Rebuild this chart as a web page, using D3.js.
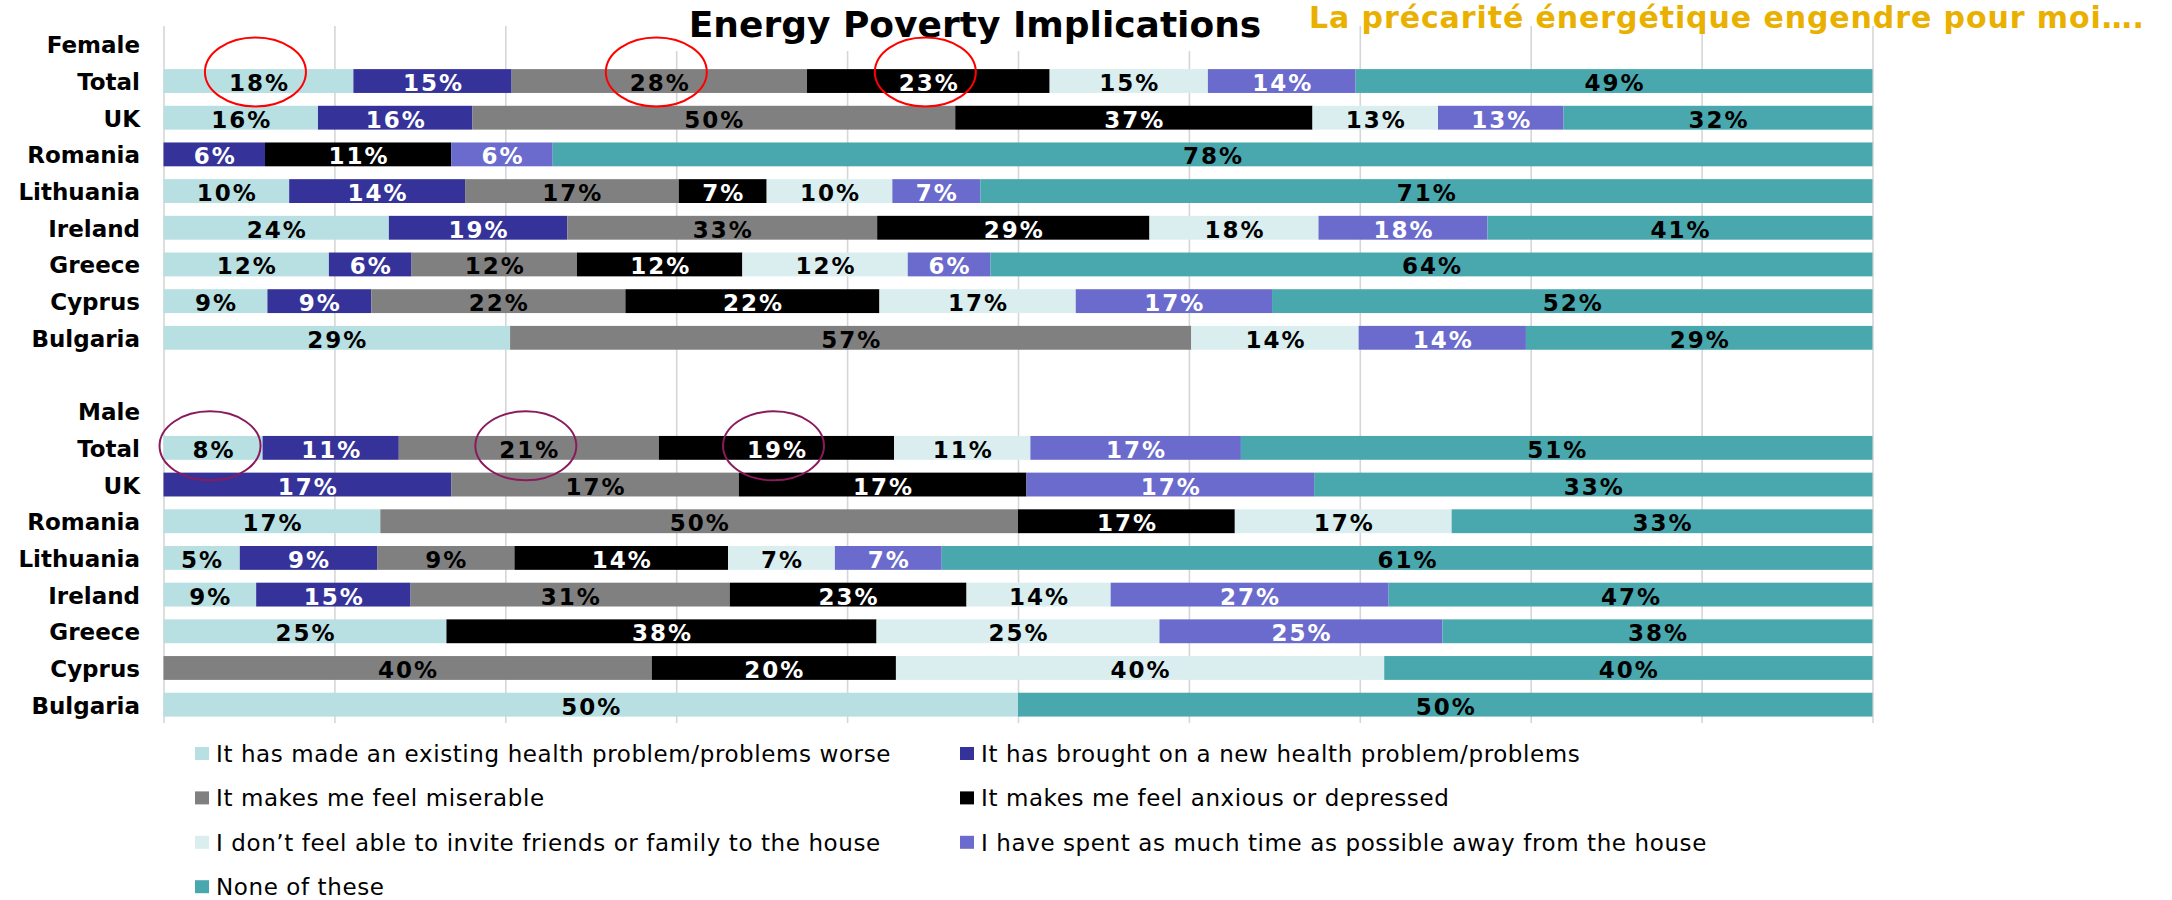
<!DOCTYPE html>
<html>
<head>
<meta charset="utf-8">
<script src="https://cdn.jsdelivr.net/npm/d3@7"></script>
<style>
  body { margin: 0; background: #fff; }
  svg { display: block; }
</style>
</head>
<body>
<div id="chart"></div>
<script>
// answers, in stacking order
var seriesNames = [
  "It has made an existing health problem/problems worse",
  "It has brought on a new health problem/problems",
  "It makes me feel miserable",
  "It makes me feel anxious or depressed",
  "I don\u2019t feel able to invite friends or family to the house",
  "I have spent as much time as possible away from the house",
  "None of these"
];
var seriesColors = ["#b8dfe2", "#353399", "#808080", "#000000", "#daeef0", "#6b6bce", "#48a8ae"];
var darkSeries = [1, 3, 5];

var countries = ["Total", "UK", "Romania", "Lithuania", "Ireland", "Greece", "Cyprus", "Bulgaria"];

var femaleValues = [
  [18, 15, 28, 23, 15, 14, 49],
  [16, 16, 50, 37, 13, 13, 32],
  [0, 6, 0, 11, 0, 6, 78],
  [10, 14, 17, 7, 10, 7, 71],
  [24, 19, 33, 29, 18, 18, 41],
  [12, 6, 12, 12, 12, 6, 64],
  [9, 9, 22, 22, 17, 17, 52],
  [29, 0, 57, 0, 14, 14, 29]
];
var maleValues = [
  [8, 11, 21, 19, 11, 17, 51],
  [0, 17, 17, 17, 0, 17, 33],
  [17, 0, 50, 17, 17, 0, 33],
  [5, 9, 9, 14, 7, 7, 61],
  [9, 15, 31, 23, 14, 27, 47],
  [25, 0, 0, 38, 25, 25, 38],
  [0, 0, 40, 20, 40, 0, 40],
  [50, 0, 0, 0, 0, 0, 50]
];

// highlighted segments: [row key, series index]
var femaleCircles = [["F-Total", 0], ["F-Total", 2], ["F-Total", 3]];
var maleCircles = [["M-Total", 0], ["M-Total", 2], ["M-Total", 3]];

var svgWidth = 2172;
var svgHeight = 900;
var font = "DejaVu Sans, Verdana, sans-serif";

var svg = d3.select("#chart")
  .append("svg")
  .attr("width", svgWidth)
  .attr("height", svgHeight);

// rows: group headers, countries and a blank spacer
var rows = [{ key: "Female", label: "Female" }];
countries.forEach(function(c, i) {
  var r = { key: "F-" + c, label: c };
  femaleValues[i].forEach(function(v, j) { r[j] = v; });
  rows.push(r);
});
rows.push({ key: "gap", label: "" });
rows.push({ key: "Male", label: "Male" });
countries.forEach(function(c, i) {
  var r = { key: "M-" + c, label: c };
  maleValues[i].forEach(function(v, j) { r[j] = v; });
  rows.push(r);
});
var dataRows = rows.filter(function(r) { return r[0] !== undefined; });

var x = d3.scaleLinear().domain([0, 1]).range([163.5, 1872.5]);
var y = d3.scaleBand()
  .domain(rows.map(function(r) { return r.key; }))
  .range([26, 723])
  .paddingInner(0.35)
  .paddingOuter(0.175);

// grid
var grid = svg.append("g")
  .attr("transform", "translate(0,723)")
  .call(d3.axisBottom(x).ticks(10).tickSize(-(723 - 26)).tickFormat(""));
grid.select(".domain").remove();
grid.selectAll("line").attr("stroke", "#d6d6d6").attr("stroke-width", 1.6);

// title box hides the grid under it
svg.append("rect")
  .attr("x", 662).attr("y", 0).attr("width", 628).attr("height", 51)
  .attr("fill", "#fff");

svg.append("text")
  .attr("x", 975)
  .attr("y", 37)
  .attr("text-anchor", "middle")
  .style("font-family", font)
  .style("font-weight", "bold")
  .style("font-size", "36px")
  .text("Energy Poverty Implications");

svg.append("text")
  .attr("x", 1309)
  .attr("y", 28)
  .attr("textLength", 835)
  .attr("lengthAdjust", "spacing")
  .attr("fill", "#e9b000")
  .style("font-family", font)
  .style("font-weight", "bold")
  .style("font-size", "30px")
  .text("La pr\u00e9carit\u00e9 \u00e9nerg\u00e9tique engendre pour moi\u2026.");

// stacked, normalised bars
var stack = d3.stack()
  .keys(d3.range(seriesNames.length))
  .offset(d3.stackOffsetExpand);
var stacked = stack(dataRows);

var layers = svg.append("g").selectAll("g")
  .data(stacked)
  .enter().append("g")
  .attr("fill", function(d) { return seriesColors[d.key]; });

layers.selectAll("rect")
  .data(function(d) { return d.filter(function(s) { return s.data[d.key] > 0; }); })
  .enter().append("rect")
  .attr("x", function(s) { return x(s[0]); })
  .attr("y", function(s) { return y(s.data.key); })
  .attr("width", function(s) { return x(s[1]) - x(s[0]); })
  .attr("height", y.bandwidth());

layers.each(function(layer) {
  d3.select(this).selectAll("text")
    .data(layer.filter(function(s) { return s.data[layer.key] > 0; }))
    .enter().append("text")
    .attr("x", function(s) { return (x(s[0]) + x(s[1])) / 2 + 1; })
    .attr("y", function(s) { return y(s.data.key) + y.bandwidth() / 2 + 10; })
    .attr("text-anchor", "middle")
    .attr("fill", darkSeries.indexOf(layer.key) >= 0 ? "#fff" : "#000")
    .style("font-family", font)
    .style("font-weight", "bold")
    .style("font-size", "23px")
    .style("letter-spacing", "2px")
    .text(function(s) { return s.data[layer.key] + "%"; });
});

// row labels
svg.append("g").selectAll("text")
  .data(rows)
  .enter().append("text")
  .attr("x", 140)
  .attr("y", function(r) { return y(r.key) + y.bandwidth() / 2 + 9; })
  .attr("text-anchor", "end")
  .style("font-family", font)
  .style("font-weight", "bold")
  .style("font-size", "23px")
  .text(function(r) { return r.label; });

// circled values
function segCenter(key, idx) {
  var s = stacked[idx].find(function(p) { return p.data.key === key; });
  return (x(s[0]) + x(s[1])) / 2;
}
function drawCircles(list, color, dx, dy) {
  svg.append("g").selectAll("ellipse")
    .data(list)
    .enter().append("ellipse")
    .attr("cx", function(d) { return segCenter(d[0], d[1]) + dx; })
    .attr("cy", function(d) { return y(d[0]) + y.bandwidth() / 2 + dy; })
    .attr("rx", 50.5)
    .attr("ry", 34.5)
    .attr("fill", "none")
    .attr("stroke", color)
    .attr("stroke-width", 2);
}
drawCircles(femaleCircles, "#ff0000", -3, -9);
drawCircles(maleCircles, "#8b1a5c", -3, -2);

// legend
var legend = svg.append("g").selectAll("g")
  .data(seriesNames)
  .enter().append("g")
  .attr("transform", function(d, i) {
    return "translate(" + (195 + (i % 2) * 765) + "," + (762 + Math.floor(i / 2) * 44.4) + ")";
  });
legend.append("rect")
  .attr("x", 0).attr("y", -15)
  .attr("width", 14).attr("height", 13)
  .attr("fill", function(d, i) { return seriesColors[i]; });
legend.append("text")
  .attr("x", 21)
  .attr("y", 0)
  .style("font-family", font)
  .style("font-size", "23px")
  .style("letter-spacing", "0.6px")
  .text(function(d) { return d; });
</script>
</body>
</html>
